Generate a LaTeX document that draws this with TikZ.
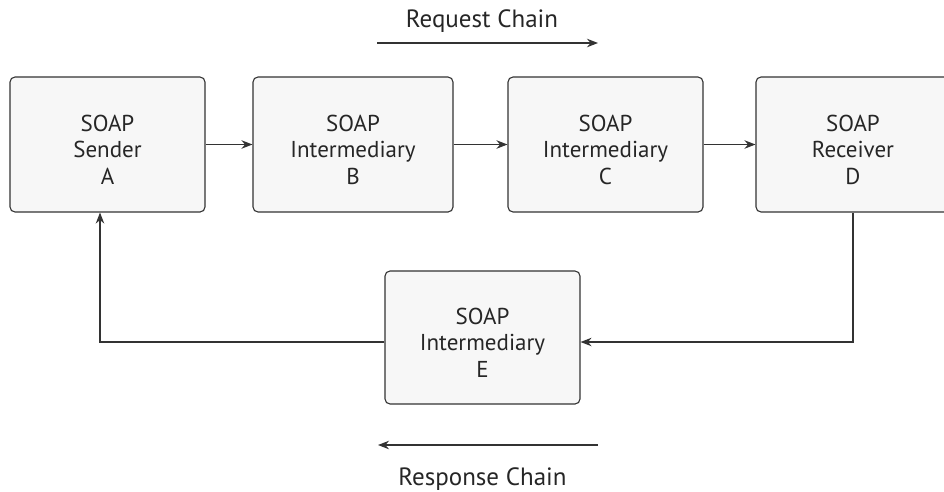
\documentclass[tikz,border=0pt]{standalone}
\usepackage{fontspec}
\setmainfont{PT Sans}
\usetikzlibrary{arrows.meta}
\definecolor{linec}{HTML}{333333}
\definecolor{boxfill}{HTML}{F7F7F7}
\begin{document}
\begin{tikzpicture}[x=1pt,y=-1pt,
  soapbox/.style={draw=linec, line width=1.1pt, fill=boxfill, rounded corners=5pt,
    minimum width=195pt, minimum height=135pt, inner sep=0pt},
  soaptext/.style={align=center, inner sep=0pt, yshift=-5pt,
    font=\fontsize{23}{26.5}\selectfont, text=black!85},
  conn/.style={draw=linec, line width=1.2pt, -{Stealth[length=11pt,width=8.5pt]}},
  lbl/.style={anchor=base, inner sep=0pt, font=\fontsize{25}{28}\selectfont, text=black!85}]
\useasboundingbox (0,0) rectangle (944,491);
\clip (0,0) rectangle (944,491);
\node[soapbox, label={[soaptext]center:{SOAP\\Sender\\A}}] (A) at (107.5,144.5) {};
\node[soapbox, minimum width=200pt, label={[soaptext]center:{SOAP\\Intermediary\\B}}] (B) at (353,144.5) {};
\node[soapbox, label={[soaptext]center:{SOAP\\Intermediary\\C}}] (C) at (605.5,144.5) {};
\node[soapbox, minimum width=194pt, label={[soaptext]center:{SOAP\\Receiver\\D}}] (D) at (853,144.5) {};
\node[soapbox, minimum height=133pt, label={[soaptext]center:{SOAP\\Intermediary\\E}}] (E) at (482.5,337.5) {};
\draw[conn] (A) -- (B);
\draw[conn] (B) -- (C);
\draw[conn] (C) -- (D);
\coordinate (Ein) at ([yshift=-4.5pt]E.east);
\coordinate (Eout) at ([yshift=-4.5pt]E.west);
\draw[conn] (D.south) |- (Ein);
\coordinate (turn) at (100,342);
\draw[conn] (Eout) -- (turn) -- (turn |- A.south);
\node[lbl] (req) at (482,27) {Request Chain};
\coordinate (rq1) at (377,43);
\coordinate (rq2) at (598,43);
\draw[conn] (rq1) -- (rq2);
\coordinate (rs1) at (598,445);
\coordinate (rs2) at (378,445);
\draw[conn] (rs1) -- (rs2);
\node[lbl] (resp) at (482.5,485) {Response Chain};
\end{tikzpicture}
\end{document}
